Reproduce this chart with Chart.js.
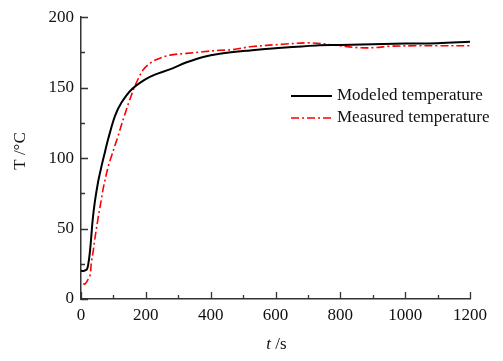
<!DOCTYPE html>
<html><head><meta charset="utf-8">
<script src="https://cdn.jsdelivr.net/npm/chart.js@4.4.0/dist/chart.umd.min.js"></script>
<style>html,body{margin:0;padding:0;background:#fff}#wrap{width:503px;height:361px;position:relative}</style>
</head><body><div id="wrap"><canvas id="c" width="503" height="361"></canvas></div>
<script>
const modeledT = [0, 10, 18, 22, 28, 36, 43, 53, 64, 74, 84, 105, 125, 156, 197, 228, 274, 326, 377, 428, 521, 600, 726, 800, 932, 1000, 1100, 1200];
const modeledV = [20, 20, 21, 24, 34.5, 56, 69.4, 83.4, 95, 104.4, 113.7, 130, 139.4, 148.7, 155.7, 159.2, 163, 168, 171.8, 174, 176.4, 178, 180, 180.3, 181, 181.3, 181.6, 182.5];
const measuredT = [7, 12, 21, 28, 32, 38, 42, 53, 63, 69, 84, 95, 104, 115, 124, 136, 146, 156, 166, 177, 192, 213, 233, 274, 326, 377, 428, 469, 521, 623, 706, 788, 860, 911, 952, 1034, 1100, 1200];
const measuredV = [11, 10.5, 13.5, 17, 26, 34.5, 41.5, 57.8, 71, 79, 94, 102, 108.5, 116, 123, 131.5, 138.5, 145, 151, 156.5, 162.7, 167.3, 170, 173.1, 174.3, 175.5, 176.5, 177, 179, 180.8, 181.8, 180, 178.3, 178.5, 179.4, 179.7, 179.7, 179.7];
const xTicks = [0, 200, 400, 600, 800, 1000, 1200];
const yTicks = [0, 50, 100, 150, 200];
const seriesNames = ['Modeled temperature', 'Measured temperature'];
const xTitleItalic = 't', xTitleRest = ' /s', yTitle = 'T /\u00B0C';

const FONT = '"Liberation Serif","Times New Roman",serif';
const AXIS_COLOR = '#333';

const pts = (xs, ys) => xs.map((x, i) => ({x, y: ys[i]}));

const decor = {
  id: 'decor',
  afterDraw(chart) {
    const ctx = chart.ctx, xs = chart.scales.x, ys = chart.scales.y, ca = chart.chartArea;
    ctx.save();
    ctx.strokeStyle = AXIS_COLOR; ctx.lineWidth = 1.3;
    ctx.beginPath();
    for (let v = 0; v <= 1200; v += 100) {
      const px = Math.round(xs.getPixelForValue(v)) + 0.5;
      const len = (v % 200 === 0) ? 7 : 4;
      ctx.moveTo(px, ca.bottom); ctx.lineTo(px, ca.bottom - len);
    }
    for (let v = 0; v <= 200; v += 25) {
      const py = Math.round(ys.getPixelForValue(v)) + 0.5;
      const len = (v % 50 === 0) ? 7 : 4;
      ctx.moveTo(ca.left, py); ctx.lineTo(ca.left + len, py);
    }
    ctx.stroke();
    ctx.fillStyle = '#111';
    ctx.font = 'italic 17px ' + FONT;
    const w1 = ctx.measureText(xTitleItalic).width;
    ctx.font = '17px ' + FONT;
    const w2 = ctx.measureText(xTitleRest).width;
    const cx = (ca.left + ca.right) / 2 + 1;
    let sx = cx - (w1 + w2) / 2;
    ctx.textBaseline = 'middle'; ctx.textAlign = 'left';
    ctx.font = 'italic 17px ' + FONT;
    ctx.fillText(xTitleItalic, sx, 345);
    ctx.font = '17px ' + FONT;
    ctx.fillText(xTitleRest, sx + w1, 345);
    ctx.save();
    ctx.translate(21, 151); ctx.rotate(-Math.PI / 2);
    ctx.textAlign = 'center';
    ctx.fillText(yTitle, 0, 0);
    ctx.restore();
    const lx0 = 291, lx1 = 332, tx = 337;
    const rows = [{y: 96, ds: chart.data.datasets[0]}, {y: 118, ds: chart.data.datasets[1]}];
    rows.forEach((r, i) => {
      ctx.save();
      ctx.strokeStyle = r.ds.borderColor; ctx.lineWidth = r.ds.borderWidth;
      ctx.setLineDash(r.ds.borderDash || []);
      ctx.beginPath(); ctx.moveTo(lx0, r.y); ctx.lineTo(lx1, r.y); ctx.stroke();
      ctx.restore();
      ctx.fillStyle = '#111'; ctx.font = '17px ' + FONT; ctx.textAlign = 'left'; ctx.textBaseline = 'middle';
      ctx.fillText(seriesNames[i], tx, r.y);
    });
    ctx.restore();
  }
};

new Chart(document.getElementById('c'), {
  type: 'line',
  data: {
    datasets: [
      {label: seriesNames[0], data: pts(modeledT, modeledV), borderColor: '#000', borderWidth: 2, pointRadius: 0, tension: 0.35, fill: false},
      {label: seriesNames[1], data: pts(measuredT, measuredV), borderColor: '#ff0000', borderWidth: 1.6, borderDash: [8, 3, 2, 3], pointRadius: 0, tension: 0.35, fill: false}
    ]
  },
  options: {
    responsive: false, animation: false,
    layout: {padding: {top: 13, right: 33, left: 0, bottom: 0}},
    plugins: {legend: {display: false}, tooltip: {enabled: false}},
    scales: {
      x: {
        type: 'linear', min: 0, max: 1200,
        afterBuildTicks: s => { s.ticks = xTicks.map(v => ({value: v})); },
        afterFit: s => { s.height = 62; },
        grid: {display: true, drawOnChartArea: false, drawTicks: false, tickLength: 0},
        border: {display: true, color: AXIS_COLOR, width: 1.5},
        ticks: {color: '#111', font: {family: FONT, size: 17}, padding: 6, maxRotation: 0, callback: v => String(v)}
      },
      y: {
        min: 0, max: 200,
        afterBuildTicks: s => { s.ticks = yTicks.map(v => ({value: v})); },
        afterFit: s => { s.width = 81; },
        grid: {display: true, drawOnChartArea: false, drawTicks: false, tickLength: 0},
        border: {display: true, color: AXIS_COLOR, width: 1.5},
        ticks: {color: '#111', font: {family: FONT, size: 17}, padding: 7, callback: v => String(v)}
      }
    }
  },
  plugins: [decor]
});
</script></body></html>
